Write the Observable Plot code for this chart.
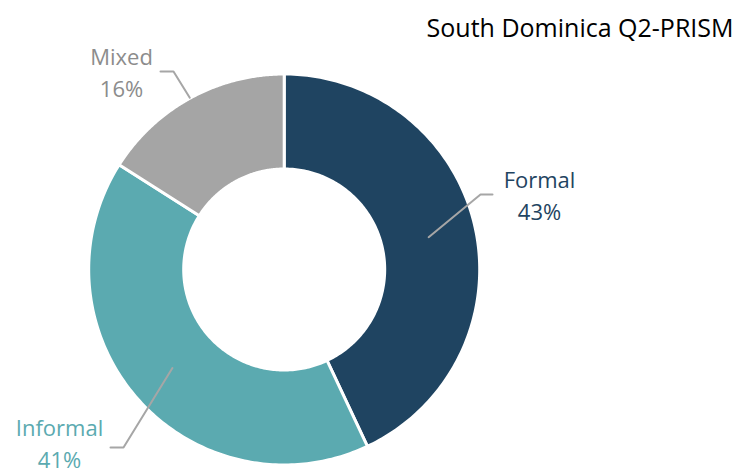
<!DOCTYPE html>
<html>
<head>
<meta charset="utf-8">
<script src="https://cdn.jsdelivr.net/npm/d3@7"></script>
<script src="https://cdn.jsdelivr.net/npm/@observablehq/plot@0.6"></script>
<style>
  html, body { margin: 0; padding: 0; background: #fff; }
  #chart svg { display: block; }
</style>
</head>
<body>
<div id="chart"></div>
<script>
// ---- data ----
const title = "South Dominica Q2-PRISM";
const categories = ["Formal", "Informal", "Mixed"];
const shares = [43, 41, 16];

// ---- styles / layout ----
const sliceColors = ["#1F4461", "#5BAAB0", "#A5A5A5"];
const labelColors = ["#1F4461", "#5BAAB0", "#8C8C8C"];
const W = 738, H = 473;
const cx = 283.7, cy = 269;
const rOuter = 195.5, rInner = 100.5;
// leader line: start radius, elbow, end ; label anchor (center x, last baseline y)
const leaderStartR = [148, 149, 196];
const leaderElbow = [[480, 194], [123, 447], [173, 71]];
const leaderEnd = [[492, 194], [110, 447], [160, 71]];
const labelPos = [[539, 219], [59, 467], [121, 96]];

const pie = d3.pie().sort(null)(shares);

// slice polygons (offset coordinates relative to centre, y downwards)
const polys = [];
pie.forEach((p, i) => {
  const n = 160;
  for (let k = 0; k <= n; k++) {
    const a = p.startAngle + (p.endAngle - p.startAngle) * k / n;
    polys.push({cat: categories[i], x: rOuter * Math.sin(a), y: -rOuter * Math.cos(a)});
  }
  for (let k = n; k >= 0; k--) {
    const a = p.startAngle + (p.endAngle - p.startAngle) * k / n;
    polys.push({cat: categories[i], x: rInner * Math.sin(a), y: -rInner * Math.cos(a)});
  }
});

// leader lines
const leaders = [];
pie.forEach((p, i) => {
  const mid = (p.startAngle + p.endAngle) / 2;
  const r = leaderStartR[i];
  leaders.push({cat: categories[i], x: r * Math.sin(mid), y: -r * Math.cos(mid)});
  leaders.push({cat: categories[i], x: leaderElbow[i][0] - cx, y: leaderElbow[i][1] - cy});
  leaders.push({cat: categories[i], x: leaderEnd[i][0] - cx, y: leaderEnd[i][1] - cy});
});

const labels = categories.map((c, i) => ({
  cat: c,
  text: `${c}\n${shares[i]}%`,
  x: labelPos[i][0] - cx,
  y: labelPos[i][1] - cy,
  color: labelColors[i]
}));

const chart = Plot.plot({
  width: W,
  height: H,
  margin: 0,
  x: {domain: [-cx, W - cx], range: [0, W], axis: null},
  y: {domain: [-cy, H - cy], range: [0, H], axis: null},
  color: {domain: categories, range: sliceColors},
  style: {fontFamily: "'Open Sans', sans-serif", background: "#fff"},
  marks: [
    Plot.line(polys, {x: "x", y: "y", z: "cat", fill: "cat", stroke: "#fff", strokeWidth: 3, curve: "linear-closed"}),
    Plot.line(leaders, {x: "x", y: "y", z: "cat", stroke: "#A6A6A6", strokeWidth: 2}),
    Plot.text(labels, {x: "x", y: "y", text: "text", fill: d => d.color, fontSize: 22, lineHeight: 1.45, lineAnchor: "bottom", textAnchor: "middle"}),
    Plot.text([title], {x: () => 733 - cx, y: () => 36 - cy, text: d => d, fill: "#000", fontSize: 25, textAnchor: "end", lineAnchor: "bottom"})
  ]
});
document.getElementById("chart").appendChild(chart);
</script>
</body>
</html>
